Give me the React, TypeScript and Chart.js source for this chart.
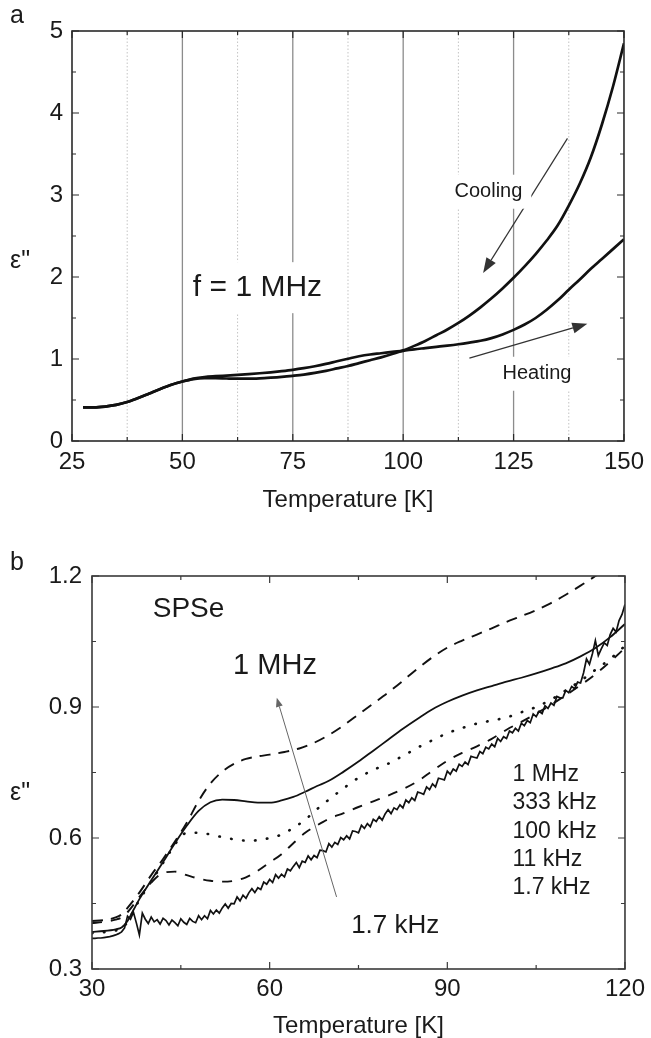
import React, { useEffect, useRef } from "react";
import { Chart, registerables } from "chart.js";

Chart.register(...registerables);

const FONT = "'Liberation Sans', Arial, Helvetica, sans-serif";
const INK = "#1a1a1a";

// ---------------- Panel a : f = 1 MHz, heating / cooling ----------------
const aTempHeating = [27.5, 30, 32.5, 35, 37.5, 40, 42.5, 45, 47.5, 50, 52.5, 55, 57.5, 60, 62.5, 65, 67.5, 70, 72.5, 75, 77.5, 80, 82.5, 85, 87.5, 90, 92.5, 95, 97.5, 100, 102.5, 105, 107.5, 110, 112.5, 115, 117.5, 120, 122.5, 125, 127.5, 130, 132.5, 135, 137.5, 140, 142.5, 145, 147.5, 150];
const aEpsHeating = [0.41, 0.41, 0.42, 0.44, 0.475, 0.525, 0.58, 0.635, 0.685, 0.725, 0.76, 0.78, 0.79, 0.798, 0.806, 0.815, 0.826, 0.838, 0.852, 0.868, 0.888, 0.912, 0.94, 0.972, 1.003, 1.033, 1.055, 1.07, 1.086, 1.1, 1.118, 1.133, 1.148, 1.163, 1.18, 1.2, 1.222, 1.255, 1.3, 1.355, 1.42, 1.5, 1.6, 1.715, 1.845, 1.97, 2.1, 2.22, 2.34, 2.46];
const aTempCooling = [27.5, 30, 32.5, 35, 37.5, 40, 42.5, 45, 47.5, 50, 52.5, 55, 57.5, 60, 62.5, 65, 67.5, 70, 72.5, 75, 77.5, 80, 82.5, 85, 87.5, 90, 92.5, 95, 97.5, 100, 102.5, 105, 107.5, 110, 112.5, 115, 117.5, 120, 122.5, 125, 127.5, 130, 132.5, 135, 137.5, 140, 142.5, 145, 147.5, 150];
const aEpsCooling = [0.41, 0.41, 0.42, 0.44, 0.475, 0.525, 0.58, 0.635, 0.685, 0.725, 0.755, 0.765, 0.765, 0.762, 0.76, 0.76, 0.764, 0.772, 0.782, 0.795, 0.81, 0.83, 0.855, 0.885, 0.915, 0.95, 0.985, 1.02, 1.06, 1.105, 1.16, 1.22, 1.29, 1.36, 1.44, 1.53, 1.63, 1.74, 1.86, 1.99, 2.13, 2.28, 2.445, 2.63, 2.87, 3.14, 3.46, 3.86, 4.32, 4.85];

const aXMajor = [25, 50, 75, 100, 125, 150];
const aXMinor = [37.5, 62.5, 87.5, 112.5, 137.5];
const aYMajor = [0, 1, 2, 3, 4, 5];
const aYMinor = [0.5, 1.5, 2.5, 3.5, 4.5];

// ---------------- Panel b : SPSe, several frequencies ----------------
const b1MHzT = [30, 32, 34, 35, 36, 38, 40, 42, 44, 46, 48, 50, 52, 54, 56, 58, 60, 62.5, 65, 67.5, 70, 72.5, 75, 77.5, 80, 82.5, 85, 87.5, 90, 92.5, 95, 97.5, 100, 102.5, 105, 107.5, 110, 112.5, 115, 116];
const b1MHz = [0.41, 0.412, 0.418, 0.425, 0.44, 0.475, 0.515, 0.552, 0.592, 0.635, 0.685, 0.725, 0.752, 0.77, 0.781, 0.787, 0.791, 0.797, 0.805, 0.818, 0.836, 0.858, 0.883, 0.908, 0.933, 0.96, 0.988, 1.014, 1.036, 1.052, 1.066, 1.08, 1.095, 1.108, 1.122, 1.138, 1.157, 1.178, 1.2, 1.21];

const b333kHzT = [30, 32, 34, 35, 36, 37, 38, 40, 42, 44, 46, 48, 50, 52, 54, 56, 58, 60, 62, 64, 66, 68, 70, 72.5, 75, 77.5, 80, 82.5, 85, 87.5, 90, 92.5, 95, 97.5, 100, 102.5, 105, 107.5, 110, 112.5, 115, 117.5, 120];
const b333kHz = [0.385, 0.387, 0.391, 0.395, 0.41, 0.435, 0.46, 0.503, 0.545, 0.588, 0.628, 0.662, 0.682, 0.688, 0.687, 0.684, 0.681, 0.681, 0.686, 0.694, 0.706, 0.719, 0.731, 0.752, 0.775, 0.8, 0.825, 0.85, 0.873, 0.895, 0.912, 0.926, 0.938, 0.948, 0.958, 0.967, 0.977, 0.988, 1.0, 1.016, 1.035, 1.06, 1.09];

const b100kHzT = [30, 32, 34, 35, 36, 37, 38, 40, 42, 44, 45, 46, 48, 50, 52, 54, 56, 58, 60, 62, 64, 66, 68, 70, 72.5, 75, 77.5, 80, 82.5, 85, 87.5, 90, 92.5, 95, 97.5, 100, 102.5, 105, 107.5, 110, 112.5, 115, 117.5, 120];
const b100kHz = [0.382, 0.384, 0.388, 0.392, 0.408, 0.433, 0.458, 0.5, 0.543, 0.585, 0.603, 0.612, 0.612, 0.608, 0.602, 0.597, 0.594, 0.595, 0.6, 0.608, 0.623, 0.642, 0.666, 0.688, 0.714, 0.738, 0.756, 0.77, 0.788, 0.807, 0.824, 0.84, 0.852, 0.862, 0.869, 0.876, 0.888, 0.9, 0.917, 0.938, 0.96, 0.985, 1.01, 1.04];

const b11kHzT = [30, 32, 34, 35, 36, 38, 40, 42, 44, 46, 48, 50, 52, 54, 56, 58, 60, 62, 64, 66, 68, 70, 72.5, 75, 77.5, 80, 82.5, 85, 87.5, 90, 92.5, 95, 97.5, 100, 102.5, 105, 107.5, 110, 112.5, 115, 117.5, 120];
const b11kHz = [0.405, 0.408, 0.413, 0.418, 0.43, 0.465, 0.498, 0.52, 0.523, 0.515, 0.507, 0.502, 0.5, 0.502, 0.51, 0.525, 0.544, 0.563, 0.588, 0.612, 0.629, 0.644, 0.657, 0.671, 0.684, 0.697, 0.712, 0.73, 0.754, 0.777, 0.795, 0.81, 0.827, 0.848, 0.866, 0.885, 0.905, 0.927, 0.95, 0.975, 1.004, 1.035];

const b17kHzStartK = 30;
const b17kHzStepK = 0.5;
const b17kHz = [
  0.370, 0.370, 0.371, 0.371, 0.372, 0.373, 0.374, 0.376, 0.378, 0.381, 0.385, 0.394,
  0.421, 0.414, 0.430, 0.405, 0.378, 0.428,
  0.414, 0.404, 0.419, 0.408, 0.413, 0.403, 0.416, 0.411, 0.401, 0.412,
  0.406, 0.399, 0.415, 0.407, 0.402, 0.416, 0.409, 0.406, 0.422, 0.413,
  0.422, 0.415, 0.434, 0.426, 0.435, 0.428, 0.440, 0.449, 0.439, 0.450,
  0.449, 0.465, 0.456, 0.469, 0.462, 0.475, 0.484, 0.475, 0.486, 0.482,
  0.499, 0.494, 0.505, 0.498, 0.516, 0.508, 0.517, 0.511, 0.529, 0.525,
  0.535, 0.544, 0.532, 0.547, 0.544, 0.559, 0.550, 0.560, 0.555, 0.572,
  0.571, 0.568, 0.587, 0.579, 0.590, 0.585, 0.601, 0.596, 0.605, 0.598,
  0.616, 0.615, 0.612, 0.629, 0.622, 0.633, 0.626, 0.643, 0.638, 0.649,
  0.641, 0.655, 0.665, 0.656, 0.669, 0.665, 0.676, 0.669, 0.687, 0.681,
  0.692, 0.686, 0.705, 0.703, 0.700, 0.717, 0.711, 0.724, 0.717, 0.737,
  0.735, 0.733, 0.753, 0.746, 0.758, 0.753, 0.769, 0.764, 0.774, 0.768,
  0.787, 0.785, 0.783, 0.798, 0.793, 0.808, 0.804, 0.815, 0.809, 0.828,
  0.821, 0.832, 0.828, 0.845, 0.841, 0.851, 0.845, 0.863, 0.857, 0.869,
  0.864, 0.884, 0.878, 0.890, 0.885, 0.903, 0.897, 0.909, 0.904, 0.924,
  0.921, 0.921, 0.938, 0.933, 0.947, 0.942, 0.957, 0.955,
  0.978, 1.010, 0.998, 1.022, 1.052, 1.018, 1.033, 1.047, 1.041, 1.066,
  1.080, 1.072, 1.098, 1.112, 1.135,
];

const bXMajor = [30, 60, 90, 120];
const bXMinor = [45, 75, 105];
const bYMajor = [0.3, 0.6, 0.9, 1.2];
const bYMinor = [0.45, 0.75, 1.05];
const bLegendLabels = ["1 MHz", "333 kHz", "100 kHz", "11 kHz", "1.7 kHz"];

// ---------------- helpers ----------------
const pts = (xs: number[], ys: number[]) => ys.map((y, i) => ({ x: xs[i], y }));

function drawArrow(ctx: CanvasRenderingContext2D, x1: number, y1: number, x2: number, y2: number, headLen: number, headHalf: number, color: string, width: number) {
  const ang = Math.atan2(y2 - y1, x2 - x1);
  const bx = x2 - headLen * Math.cos(ang);
  const by = y2 - headLen * Math.sin(ang);
  ctx.save();
  ctx.strokeStyle = color;
  ctx.fillStyle = color;
  ctx.lineWidth = width;
  ctx.setLineDash([]);
  ctx.beginPath();
  ctx.moveTo(x1, y1);
  ctx.lineTo(bx, by);
  ctx.stroke();
  ctx.beginPath();
  ctx.moveTo(x2, y2);
  ctx.lineTo(bx + headHalf * Math.sin(ang), by - headHalf * Math.cos(ang));
  ctx.lineTo(bx - headHalf * Math.sin(ang), by + headHalf * Math.cos(ang));
  ctx.closePath();
  ctx.fill();
  ctx.restore();
}

function drawFrameAndTicks(chart: any, xMajor: number[], xMinor: number[], yMajor: number[], yMinor: number[], frameColor: string) {
  const { ctx, chartArea, scales } = chart;
  const { left, right, top, bottom } = chartArea;
  const xs = scales.x, ys = scales.y;
  ctx.save();
  ctx.setLineDash([]);
  ctx.strokeStyle = frameColor;
  ctx.lineWidth = 1.2;
  const tick = (vals: number[], len: number) => {
    vals.forEach((v) => {
      const px = xs.getPixelForValue(v);
      ctx.beginPath();
      ctx.moveTo(px, bottom);
      ctx.lineTo(px, bottom - len);
      ctx.moveTo(px, top);
      ctx.lineTo(px, top + len);
      ctx.stroke();
    });
  };
  const tickY = (vals: number[], len: number) => {
    vals.forEach((v) => {
      const py = ys.getPixelForValue(v);
      ctx.beginPath();
      ctx.moveTo(left, py);
      ctx.lineTo(left + len, py);
      ctx.moveTo(right, py);
      ctx.lineTo(right - len, py);
      ctx.stroke();
    });
  };
  tick(xMajor, 7);
  tick(xMinor, 4);
  tickY(yMajor, 7);
  tickY(yMinor, 4);
  ctx.lineWidth = 1.6;
  ctx.strokeRect(left, top, right - left, bottom - top);
  ctx.restore();
}

function drawLabel(ctx: CanvasRenderingContext2D, text: string, x: number, y: number, size: number, align: CanvasTextAlign, box: boolean) {
  ctx.save();
  ctx.font = `${size}px ${FONT}`;
  ctx.textAlign = align;
  ctx.textBaseline = "middle";
  if (box) {
    const w = ctx.measureText(text).width;
    const padX = 9;
    const h = size * 1.7;
    const x0 = align === "center" ? x - w / 2 : x;
    ctx.fillStyle = "#ffffff";
    ctx.fillRect(x0 - padX, y - h / 2, w + 2 * padX, h);
  }
  ctx.fillStyle = INK;
  ctx.fillText(text, x, y);
  ctx.restore();
}

function plainText(ctx: CanvasRenderingContext2D, text: string, x: number, y: number, size: number) {
  ctx.save();
  ctx.font = `${size}px ${FONT}`;
  ctx.textAlign = "left";
  ctx.textBaseline = "alphabetic";
  ctx.fillStyle = INK;
  ctx.fillText(text, x, y);
  ctx.restore();
}

const tickFont = { family: FONT, size: 24 };

function axisOpts(min: number, max: number, ticks: number[], fmt: (v: number) => string, fitSize: number, horizontal: boolean, pad: number, title?: { text: string; bottom: number }) {
  return {
    type: "linear" as const,
    min,
    max,
    afterFit: (s: any) => {
      if (horizontal) s.height = fitSize;
      else s.width = fitSize;
    },
    afterBuildTicks: (s: any) => {
      s.ticks = ticks.map((v) => ({ value: v }));
    },
    grid: { display: false, drawTicks: false },
    border: { display: false },
    ticks: {
      font: tickFont,
      color: INK,
      padding: pad,
      autoSkip: false,
      maxRotation: 0,
      callback: (v: any) => fmt(Number(v)),
    },
    title: title
      ? {
          display: true,
          text: title.text,
          color: INK,
          font: { family: FONT, size: 24, lineHeight: 1 },
          padding: { top: 0, bottom: title.bottom },
        }
      : { display: false },
  };
}

export default function App() {
  const topRef = useRef<HTMLCanvasElement>(null);
  const botRef = useRef<HTMLCanvasElement>(null);

  useEffect(() => {
    // ---------- panel a ----------
    const panelA = {
      id: "panelA",
      beforeDatasetsDraw(chart: any) {
        const { ctx, chartArea, scales } = chart;
        const { top, bottom } = chartArea;
        ctx.save();
        aXMajor.slice(1, -1).forEach((v) => {
          const px = scales.x.getPixelForValue(v);
          ctx.strokeStyle = "#8c8c8c";
          ctx.lineWidth = 1.3;
          ctx.setLineDash([]);
          ctx.beginPath();
          ctx.moveTo(px, top);
          ctx.lineTo(px, bottom);
          ctx.stroke();
        });
        aXMinor.forEach((v) => {
          const px = scales.x.getPixelForValue(v);
          ctx.strokeStyle = "#c4c4c4";
          ctx.lineWidth = 1;
          ctx.setLineDash([1.5, 2]);
          ctx.beginPath();
          ctx.moveTo(px, top);
          ctx.lineTo(px, bottom);
          ctx.stroke();
        });
        ctx.restore();
        const X = (v: number) => scales.x.getPixelForValue(v);
        const Y = (v: number) => scales.y.getPixelForValue(v);
        drawArrow(ctx, X(137.2), Y(3.69), X(118.1), Y(2.05), 15, 5.5, "#333", 1.2);
        drawArrow(ctx, X(115), Y(1.01), X(141.7), Y(1.43), 15, 5.5, "#333", 1.2);
        drawLabel(ctx, "f = 1 MHz", X(67), Y(1.87), 30, "center", true);
        drawLabel(ctx, "Cooling", X(119.3), Y(3.04), 20, "center", true);
        drawLabel(ctx, "Heating", X(130.3), Y(0.82), 20, "center", true);
      },
      afterDraw(chart: any) {
        drawFrameAndTicks(chart, aXMajor, aXMinor, aYMajor, aYMinor, "#2a2a2a");
        plainText(chart.ctx, "a", 10, 23, 25);
        plainText(chart.ctx, "ε\"", 10, 268, 25);
      },
    };

    const lineBase = { pointRadius: 0, fill: false, borderColor: "#111", cubicInterpolationMode: "monotone" as const };

    const chartA = new Chart(topRef.current as HTMLCanvasElement, {
      type: "line",
      data: {
        datasets: [
          { ...lineBase, label: "Cooling", data: pts(aTempCooling, aEpsCooling), borderWidth: 2.7 },
          { ...lineBase, label: "Heating", data: pts(aTempHeating, aEpsHeating), borderWidth: 2.7 },
        ],
      },
      options: {
        animation: false,
        responsive: false,
        devicePixelRatio: 1,
        layout: { padding: { top: 31, right: 22, left: 0, bottom: 0 } },
        plugins: { legend: { display: false }, tooltip: { enabled: false } },
        scales: {
          x: axisOpts(25, 150, aXMajor, (v) => String(v), 79, true, 7, { text: "Temperature [K]", bottom: 8 }) as any,
          y: axisOpts(0, 5, aYMajor, (v) => String(v), 72, false, 9) as any,
        },
      },
      plugins: [panelA],
    });

    // ---------- panel b ----------
    const panelB = {
      id: "panelB",
      afterDraw(chart: any) {
        const { ctx, scales } = chart;
        const X = (v: number) => scales.x.getPixelForValue(v);
        const Y = (v: number) => scales.y.getPixelForValue(v);
        drawFrameAndTicks(chart, bXMajor, bXMinor, bYMajor, bYMinor, "#3a3a3a");
        drawArrow(ctx, X(71.3), Y(0.465), X(61.2), Y(0.921), 9, 3.5, "#666", 1);
        drawLabel(ctx, "SPSe", X(46.3), Y(1.124), 28, "center", false);
        drawLabel(ctx, "1 MHz", X(60.9), Y(0.994), 29, "center", false);
        drawLabel(ctx, "1.7 kHz", X(81.2), Y(0.399), 26, "center", false);
        const legendY = [0.744, 0.68, 0.614, 0.55, 0.486];
        bLegendLabels.forEach((t, i) => drawLabel(ctx, t, X(101), Y(legendY[i]), 23, "left", false));
        plainText(ctx, "b", 10, 50, 25);
        plainText(ctx, "ε\"", 10, 280, 25);
      },
    };

    const b17T = b17kHz.map((_, i) => b17kHzStartK + i * b17kHzStepK);

    const chartB = new Chart(botRef.current as HTMLCanvasElement, {
      type: "line",
      data: {
        datasets: [
          { ...lineBase, label: "1 MHz", data: pts(b1MHzT, b1MHz), borderWidth: 1.9, borderDash: [11, 8] },
          { ...lineBase, label: "333 kHz", data: pts(b333kHzT, b333kHz), borderWidth: 1.8 },
          { ...lineBase, label: "100 kHz", data: pts(b100kHzT, b100kHz), borderWidth: 2.6, borderDash: [0.5, 11.5], borderCapStyle: "round" },
          { ...lineBase, label: "11 kHz", data: pts(b11kHzT, b11kHz), borderWidth: 1.9, borderDash: [10, 9] },
          { pointRadius: 0, fill: false, borderColor: "#111", label: "1.7 kHz", data: pts(b17T, b17kHz), borderWidth: 1.7, tension: 0 },
        ],
      },
      options: {
        animation: false,
        responsive: false,
        devicePixelRatio: 1,
        layout: { padding: { top: 56, right: 23, left: 0, bottom: 0 } },
        plugins: { legend: { display: false }, tooltip: { enabled: false } },
        scales: {
          x: axisOpts(30, 120, bXMajor, (v) => String(v), 69, true, 6, { text: "Temperature [K]", bottom: 0 }) as any,
          y: axisOpts(0.3, 1.2, bYMajor, (v) => v.toFixed(1), 92, false, 10) as any,
        },
      },
      plugins: [panelB],
    });

    return () => {
      chartA.destroy();
      chartB.destroy();
    };
  }, []);

  return (
    <div style={{ position: "absolute", left: 0, top: 0, width: 651, height: 1038, background: "#ffffff" }}>
      <canvas ref={topRef} width={651} height={520} style={{ position: "absolute", left: 0, top: 0, width: 651, height: 520 }} />
      <canvas ref={botRef} width={651} height={518} style={{ position: "absolute", left: 0, top: 520, width: 651, height: 518 }} />
    </div>
  );
}
